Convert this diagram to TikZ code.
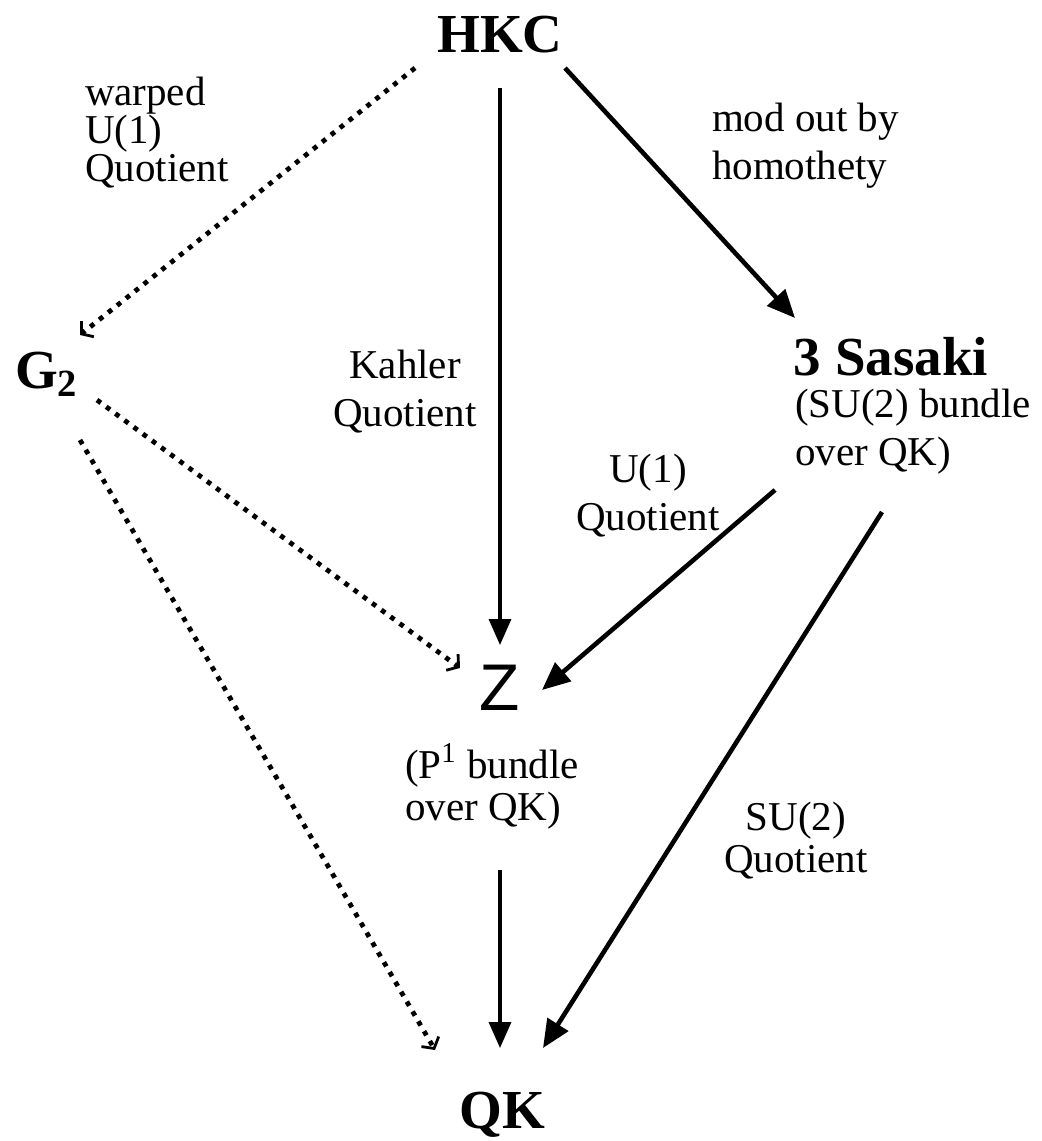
\documentclass[tikz,border=0pt]{standalone}
\usepackage{fontspec}
\setmainfont{Liberation Serif}
\newfontfamily\zfont{Liberation Sans}
\usetikzlibrary{arrows.meta}
\newcommand{\labelSize}[0]{\fontsize{20.5}{24}\selectfont}
\newcommand{\nameSize}[0]{\fontsize{27.5}{30}\selectfont\bfseries}

\begin{document}
\begin{tikzpicture}[x=0.5pt, y=-0.5pt]
  \tikzset{every node/.style={inner sep=0pt, outer sep=0pt},
    space/.style={font=\nameSize},
    lab/.style={font=\labelSize, align=left},
    labc/.style={font=\labelSize, align=center},
    vmap/.style={line width=1.7pt, -{Triangle[length=13pt,width=11pt]}},
    dmap/.style={line width=2.3pt, -{Triangle[length=14pt,width=12pt]}},
    warp/.style={line width=2.4pt, dash pattern=on 2.4pt off 3.3pt,
      -{Straight Barb[length=4pt,width=10pt,line width=1.4pt]}}}
  \useasboundingbox (0,0) rectangle (1041,1141);
  \node[space, anchor=base] (hkc) at (500,52) {HKC};
  \node[space, anchor=base west] (gtwo) at (15,388) {G\textsubscript{2}};
  \node[space, anchor=base] (sasaki) at (891,375) {3 Sasaki};
  \node[font=\zfont\fontsize{33}{33}\selectfont] (zsp) at (500,688) {Z};
  \node[space, anchor=base] (qk) at (502,1128) {QK};
  \node[lab, anchor=base west] (warped) at (85,181) {warped\\[-5pt]U(1)\\[-5pt]Quotient};
  \node[lab, anchor=base west] (homothety) at (712,179) {mod out by\\homothety};
  \node[labc, anchor=base] (kahler) at (405,426) {Kahler\\Quotient};
  \node[lab, anchor=base west] (subundle) at (795,465) {(SU(2) bundle\\over QK)};
  \node[labc, anchor=base] (uone) at (648,530) {U(1)\\Quotient};
  \node[lab, anchor=base west] (pbundle) at (405,820) {(P\textsuperscript{1} bundle\\[-3pt]over QK)};
  \node[labc, anchor=base] (sutwo) at (796,872) {SU(2)\\[-3pt]Quotient};
  \draw[vmap] ([shift={(0,36)}]hkc.base) -- ([shift={(0,-43)}]zsp.center);
  \draw[vmap] ([shift={(0,182)}]zsp.center) -- ([shift={(-2,-80)}]qk.base);
  \draw[dmap] ([shift={(65,16)}]hkc.base) -- ([shift={(-96,-57)}]sasaki.base);
  \draw[dmap] ([shift={(-116,115)}]sasaki.base) -- ([shift={(42,2)}]zsp.center);
  \draw[dmap] ([shift={(-9,137)}]sasaki.base) -- ([shift={(41,-80)}]qk.base);
  \draw[warp] ([shift={(-85,16)}]hkc.base) -- ([shift={(65,-53)}]gtwo.base west);
  \draw[warp] ([shift={(82,12)}]gtwo.base west) -- ([shift={(-40,-20)}]zsp.center);
  \draw[warp] ([shift={(65,52)}]gtwo.base west) -- ([shift={(-67,-78)}]qk.base);
\end{tikzpicture}
\end{document}
